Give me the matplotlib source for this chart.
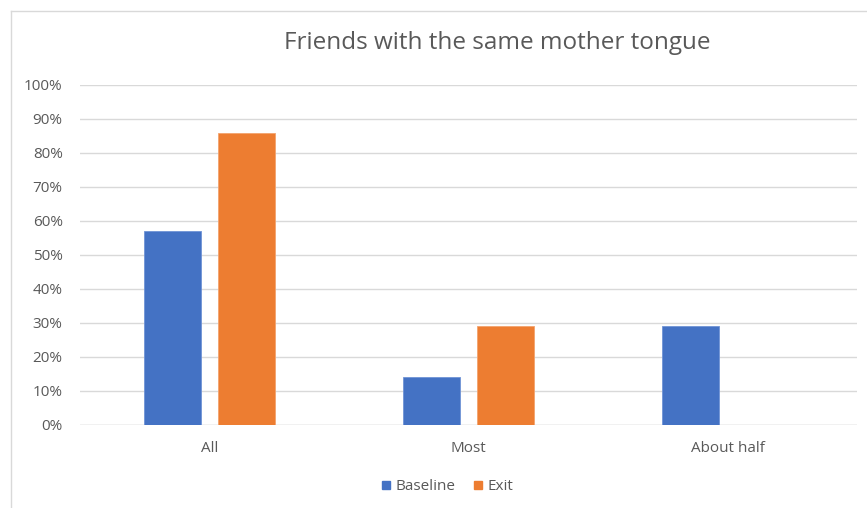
import matplotlib
matplotlib.use("Agg")
import matplotlib.pyplot as plt
from matplotlib.patches import Rectangle
from matplotlib.lines import Line2D
from matplotlib.ticker import FuncFormatter
import numpy as np

categories = ["All", "Most", "About half"]
baseline = [57, 14, 29]
exit_vals = [86, 29, 0]
series_names = ["Baseline", "Exit"]
y_ticks = list(range(0, 101, 10))

blue = "#4472C4"
orange = "#ED7D31"
grid_col = "#D9D9D9"
text_col = "#595959"

plt.rcParams["font.family"] = ["Open Sans", "DejaVu Sans"]

fig = plt.figure(figsize=(8.67, 5.08), dpi=100)
ax = fig.add_axes([80 / 867, 1 - 425 / 508, 777 / 867, 340 / 508])

x = np.arange(len(categories))
width = 0.22
offset = 0.143
ax.bar(x - offset, baseline, width, color=blue, edgecolor="#6F93D6", linewidth=0.6,
       label=series_names[0], zorder=3)
ax.bar(x + offset, exit_vals, width, color=orange, edgecolor="#F3A36E", linewidth=0.6,
       label=series_names[1], zorder=3)

ax.set_xlim(-0.5, len(categories) - 0.5)
ax.set_ylim(0, 100)
ax.set_yticks(y_ticks)
ax.yaxis.set_major_formatter(FuncFormatter(lambda v, _: f"{int(v)}%"))
ax.set_xticks(x)
ax.set_xticklabels(categories)
ax.tick_params(axis="both", length=0, labelsize=11, colors=text_col)
ax.tick_params(axis="y", pad=12.5)
ax.tick_params(axis="x", pad=11.5)
ax.grid(axis="y", color=grid_col, linewidth=1.0, zorder=0)
for s in ax.spines.values():
    s.set_visible(False)
ax.axhline(0, color=grid_col, linewidth=1.0, zorder=2)

fig.text(497 / 867, 1 - 43 / 508, "Friends with the same mother tongue",
         ha="center", va="center", fontsize=17.5, color=text_col)

handles = [Rectangle((0, 0), 1, 1, color=blue), Rectangle((0, 0), 1, 1, color=orange)]
fig.legend(handles, series_names, loc="center", bbox_to_anchor=(448 / 867, 1 - 487 / 508),
           ncol=2, frameon=False, fontsize=11, handlelength=0.5, handleheight=0.5,
           handletextpad=0.4, columnspacing=1.2, labelcolor=text_col)

# Chart area frame (top and left edges)
fig.add_artist(Line2D([11 / 867, 11 / 867], [0, 1 - 11 / 508], transform=fig.transFigure,
                      color=grid_col, linewidth=1.0))
fig.add_artist(Line2D([11 / 867, 1], [1 - 11 / 508, 1 - 11 / 508], transform=fig.transFigure,
                      color=grid_col, linewidth=1.0))

fig.savefig("out.png", dpi=100, facecolor="white")
